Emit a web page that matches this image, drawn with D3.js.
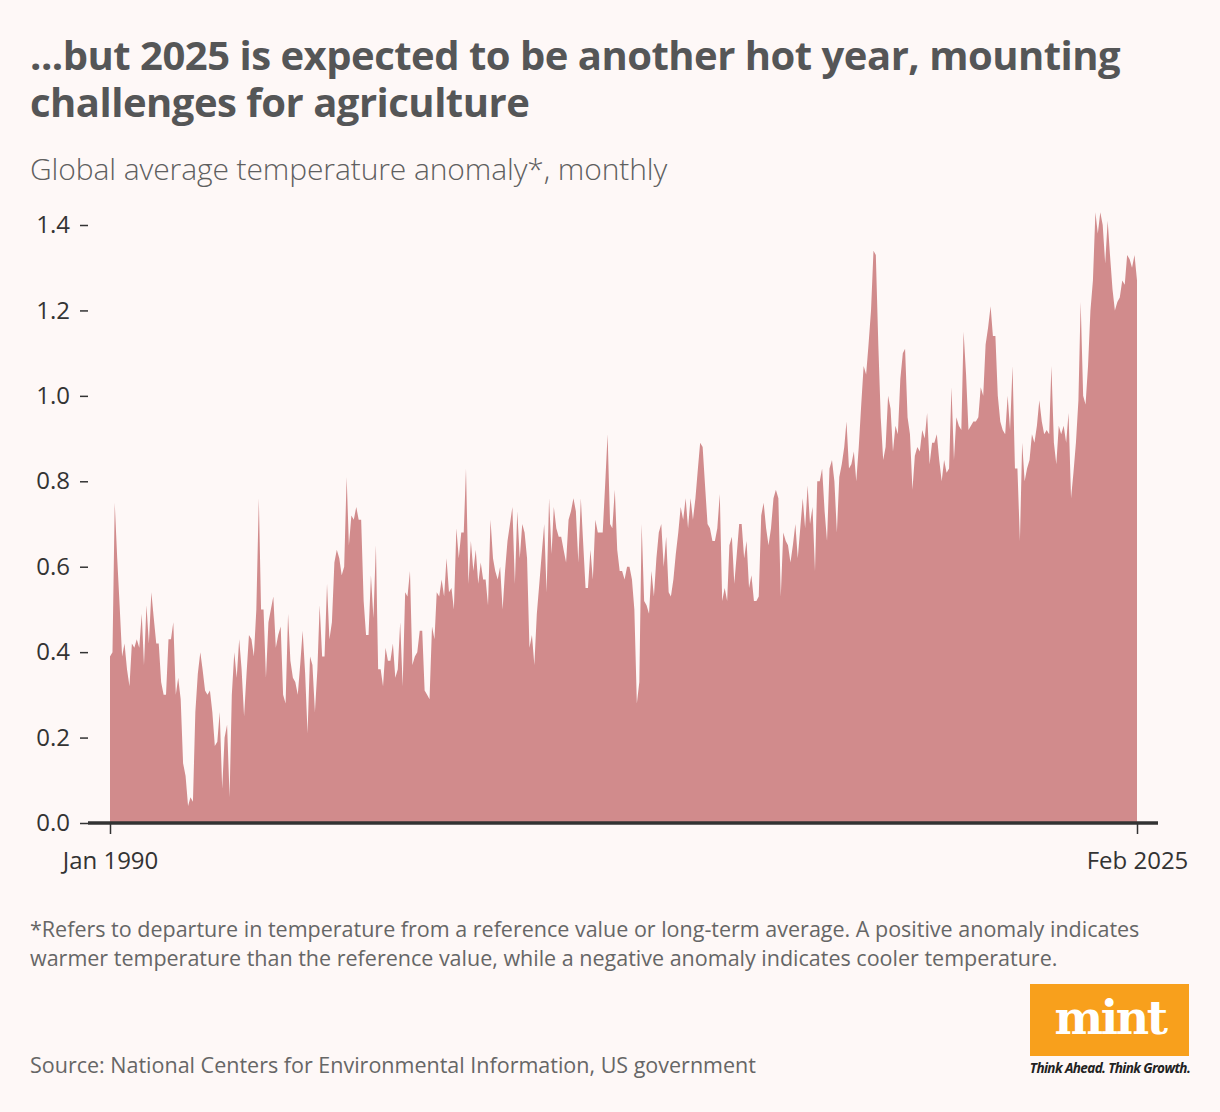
<!DOCTYPE html>
<html>
<head>
<meta charset="utf-8">
<script src="https://cdn.jsdelivr.net/npm/d3@7"></script>
<style>
  body { margin: 0; background: #fef8f7; }
  svg { display: block; font-family: 'Open Sans', sans-serif; }
</style>
</head>
<body>
<svg id="chart" width="1220" height="1112"></svg>
<script>
// monthly anomaly (deg C), Jan 1990 - Feb 2025
const anomaly = [
  0.39, 0.40, 0.75, 0.62, 0.51, 0.39, 0.42, 0.36, 0.32, 0.42, 0.41, 0.43, // 1990
  0.41, 0.49, 0.37, 0.51, 0.42, 0.54, 0.48, 0.42, 0.42, 0.33, 0.30, 0.30, // 1991
  0.43, 0.43, 0.47, 0.30, 0.34, 0.29, 0.14, 0.11, 0.04, 0.06, 0.05, 0.26, // 1992
  0.35, 0.40, 0.36, 0.31, 0.30, 0.31, 0.26, 0.18, 0.19, 0.26, 0.08, 0.20, // 1993
  0.23, 0.06, 0.30, 0.40, 0.34, 0.43, 0.36, 0.25, 0.35, 0.44, 0.43, 0.39, // 1994
  0.50, 0.76, 0.50, 0.50, 0.34, 0.47, 0.50, 0.53, 0.41, 0.44, 0.46, 0.30, // 1995
  0.28, 0.49, 0.38, 0.34, 0.33, 0.30, 0.37, 0.45, 0.35, 0.21, 0.39, 0.37, // 1996
  0.26, 0.36, 0.51, 0.39, 0.39, 0.56, 0.43, 0.47, 0.61, 0.64, 0.62, 0.58, // 1997
  0.60, 0.81, 0.65, 0.72, 0.71, 0.74, 0.71, 0.71, 0.52, 0.44, 0.44, 0.58, // 1998
  0.48, 0.65, 0.36, 0.36, 0.32, 0.41, 0.38, 0.38, 0.42, 0.34, 0.36, 0.47, // 1999
  0.32, 0.54, 0.53, 0.59, 0.37, 0.39, 0.40, 0.45, 0.45, 0.31, 0.30, 0.29, // 2000
  0.46, 0.43, 0.54, 0.53, 0.57, 0.53, 0.62, 0.54, 0.55, 0.50, 0.69, 0.62, // 2001
  0.68, 0.68, 0.83, 0.56, 0.66, 0.59, 0.64, 0.56, 0.61, 0.57, 0.57, 0.51, // 2002
  0.71, 0.62, 0.59, 0.57, 0.60, 0.50, 0.59, 0.66, 0.70, 0.74, 0.56, 0.73, // 2003
  0.62, 0.70, 0.68, 0.62, 0.41, 0.44, 0.37, 0.49, 0.56, 0.63, 0.70, 0.54, // 2004
  0.76, 0.63, 0.74, 0.69, 0.67, 0.67, 0.64, 0.61, 0.71, 0.73, 0.76, 0.73, // 2005
  0.61, 0.76, 0.66, 0.55, 0.55, 0.64, 0.57, 0.71, 0.68, 0.68, 0.68, 0.79, // 2006
  0.91, 0.70, 0.69, 0.78, 0.64, 0.59, 0.59, 0.57, 0.60, 0.60, 0.57, 0.50, // 2007
  0.28, 0.33, 0.70, 0.52, 0.51, 0.49, 0.59, 0.53, 0.62, 0.68, 0.70, 0.60, // 2008
  0.67, 0.54, 0.53, 0.57, 0.63, 0.68, 0.74, 0.71, 0.76, 0.69, 0.76, 0.71, // 2009
  0.76, 0.83, 0.89, 0.88, 0.79, 0.70, 0.69, 0.66, 0.66, 0.69, 0.77, 0.52, // 2010
  0.55, 0.52, 0.65, 0.67, 0.56, 0.63, 0.70, 0.70, 0.62, 0.66, 0.55, 0.58, // 2011
  0.52, 0.52, 0.53, 0.72, 0.75, 0.69, 0.65, 0.69, 0.76, 0.78, 0.76, 0.53, // 2012
  0.68, 0.66, 0.65, 0.61, 0.65, 0.70, 0.62, 0.69, 0.76, 0.69, 0.79, 0.70, // 2013
  0.74, 0.59, 0.80, 0.80, 0.83, 0.73, 0.66, 0.83, 0.85, 0.80, 0.68, 0.81, // 2014
  0.84, 0.88, 0.94, 0.83, 0.84, 0.87, 0.80, 0.88, 0.98, 1.07, 1.05, 1.12, // 2015
  1.20, 1.34, 1.33, 1.12, 0.95, 0.85, 0.88, 1.00, 0.97, 0.87, 0.93, 0.91, // 2016
  1.04, 1.10, 1.11, 0.95, 0.91, 0.78, 0.86, 0.88, 0.87, 0.92, 0.90, 0.96, // 2017
  0.84, 0.89, 0.89, 0.91, 0.85, 0.80, 0.85, 0.82, 0.83, 1.02, 0.85, 0.95, // 2018
  0.93, 0.92, 1.15, 1.05, 0.92, 0.93, 0.94, 0.94, 0.95, 1.02, 1.00, 1.12, // 2019
  1.16, 1.21, 1.14, 1.14, 1.00, 0.94, 0.92, 0.91, 1.00, 0.92, 1.07, 0.83, // 2020
  0.83, 0.66, 0.89, 0.80, 0.83, 0.85, 0.91, 0.89, 0.93, 0.99, 0.94, 0.91, // 2021
  0.92, 0.91, 1.07, 0.89, 0.84, 0.93, 0.91, 0.93, 0.89, 0.96, 0.76, 0.82, // 2022
  0.89, 0.99, 1.22, 1.00, 0.98, 1.07, 1.20, 1.27, 1.43, 1.38, 1.43, 1.40, // 2023
  1.31, 1.41, 1.33, 1.25, 1.20, 1.22, 1.23, 1.27, 1.26, 1.33, 1.32, 1.30, // 2024
  1.33, 1.27                                                              // 2025
]

const firstMonth = new Date(1990, 0, 1)
const yTicks = [0, 0.2, 0.4, 0.6, 0.8, 1.0, 1.2, 1.4]
const xTickLabels = ['Jan 1990', 'Feb 2025']

const titleLines = ['...but 2025 is expected to be another hot year, mounting', 'challenges for agriculture']
const subtitle = 'Global average temperature anomaly*, monthly'
const noteLines = [
  '*Refers to departure in temperature from a reference value or long-term average. A positive anomaly indicates',
  'warmer temperature than the reference value, while a negative anomaly indicates cooler temperature.'
]
const source = 'Source: National Centers for Environmental Information, US government'

const data = anomaly.map((v, i) => ({ date: d3.timeMonth.offset(firstMonth, i), value: v }))
const lastMonth = data[data.length - 1].date

const svg = d3.select('#chart')
const textColor = '#555657'

// title (one text, two lines) + subtitle
svg.append('text')
  .attr('font-size', 40)
  .attr('font-weight', 700)
  .attr('letter-spacing', -0.5)
  .attr('fill', textColor)
  .selectAll('tspan')
  .data(titleLines)
  .join('tspan')
  .attr('x', 30)
  .attr('y', (d, i) => 70 + i * 47)
  .text((d) => d)

svg.append('text')
  .attr('x', 30)
  .attr('y', 180)
  .attr('font-size', 30)
  .attr('font-weight', 300)
  .attr('letter-spacing', -0.1)
  .attr('fill', '#5f5f60')
  .text(subtitle)

const xScale = d3.scaleTime().domain([firstMonth, lastMonth]).range([110, 1137])
const yScale = d3.scaleLinear().domain([0, 1.4]).range([823, 225])

const area = d3.area()
  .x((d) => xScale(d.date))
  .y0(yScale(0))
  .y1((d) => yScale(d.value))

svg.append('path')
  .datum(data)
  .attr('fill', '#d18b8c')
  .attr('d', area)

// y axis
const yAxis = svg.append('g')
  .attr('transform', 'translate(90,0)')
  .call(d3.axisLeft(yScale).tickValues(yTicks).tickFormat(d3.format('.1f')).tickSize(8).tickPadding(12))

yAxis.select('.domain').remove()
yAxis.selectAll('.tick line').attr('transform', 'translate(-2,0)').attr('stroke', '#333').attr('stroke-width', 1.5)
yAxis.selectAll('.tick text')
  .attr('font-family', "'Open Sans', sans-serif")
  .attr('font-size', 24)
  .attr('fill', '#333')

// x axis
const xAxis = svg.append('g')
  .attr('transform', `translate(0,${yScale(0)})`)
  .call(d3.axisBottom(xScale)
    .tickValues([firstMonth, lastMonth])
    .tickFormat((d, i) => xTickLabels[i])
    .tickSize(11)
    .tickSizeOuter(0)
    .tickPadding(18))

xAxis.select('.domain')
  .attr('d', 'M88,0H1158')
  .attr('stroke', '#333')
  .attr('stroke-width', 3.5)
xAxis.selectAll('.tick line').attr('stroke', '#333').attr('stroke-width', 1.5)
xAxis.selectAll('.tick text')
  .attr('font-family', "'Open Sans', sans-serif")
  .attr('font-size', 24)
  .attr('fill', '#333')

// footnote + source
svg.append('g')
  .selectAll('text')
  .data(noteLines)
  .join('text')
  .attr('x', 30)
  .attr('y', (d, i) => 937 + i * 29)
  .attr('font-size', 21.5)
  .attr('fill', '#666')
  .text((d) => d)

svg.append('text')
  .attr('x', 30)
  .attr('y', 1073)
  .attr('font-size', 21.5)
  .attr('fill', '#666')
  .text(source)

// mint logo
const logo = svg.append('g').attr('transform', 'translate(1030,984)')
logo.append('rect').attr('width', 159).attr('height', 72).attr('fill', '#f8a01c')
logo.append('text')
  .attr('x', 80)
  .attr('y', 50)
  .attr('text-anchor', 'middle')
  .attr('font-family', "'DejaVu Serif', serif")
  .attr('font-size', 46)
  .attr('font-weight', 700)
  .attr('letter-spacing', -2.5)
  .attr('fill', '#fff')
  .text('mint')
logo.append('text')
  .attr('x', 80)
  .attr('y', 89)
  .attr('text-anchor', 'middle')
  .attr('font-size', 13.5)
  .attr('font-weight', 700)
  .attr('font-style', 'italic')
  .attr('letter-spacing', -0.6)
  .attr('fill', '#222')
  .text('Think Ahead. Think Growth.')
</script>
</body>
</html>
